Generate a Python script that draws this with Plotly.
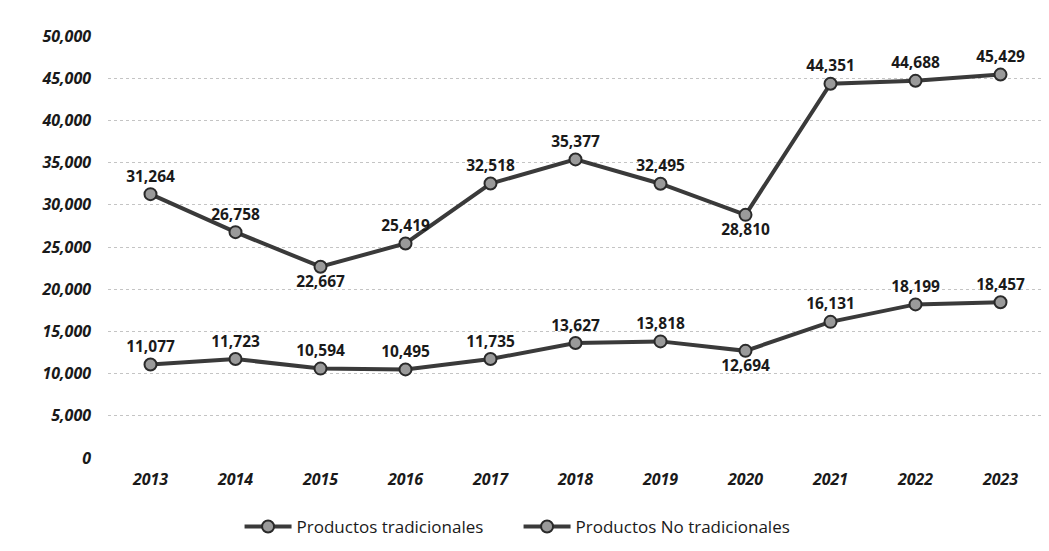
import plotly.graph_objects as go

years = ["2013", "2014", "2015", "2016", "2017", "2018", "2019", "2020", "2021", "2022", "2023"]
tradicionales = [31264, 26758, 22667, 25419, 32518, 35377, 32495, 28810, 44351, 44688, 45429]
no_tradicionales = [11077, 11723, 10594, 10495, 11735, 13627, 13818, 12694, 16131, 18199, 18457]

pos_trad = ["top center", "top center", "bottom center", "top center", "top center", "top center",
            "top center", "bottom center", "top center", "top center", "top center"]
pos_no_trad = ["top center"] * 7 + ["bottom center"] + ["top center"] * 3

font_family = "Open Sans, Liberation Sans, Arial"

fig = go.Figure()
for name, vals, pos in [
    ("Productos tradicionales", tradicionales, pos_trad),
    ("Productos No tradicionales", no_tradicionales, pos_no_trad),
]:
    fig.add_trace(go.Scatter(
        x=years, y=vals, name=name,
        mode="lines+markers+text",
        text=[f"<b>{v:,}</b>" for v in vals],
        textposition=pos,
        textfont=dict(size=15.5, color="#1a1a1a", family=font_family),
        line=dict(color="#3a3a3a", width=4),
        marker=dict(size=12, color="#9a9a9a", line=dict(color="#2a2a2a", width=2)),
        cliponaxis=False,
    ))

# figure sits inside the page's 8px body margin
fig.update_layout(
    width=1041, height=543,
    paper_bgcolor="white", plot_bgcolor="white",
    margin=dict(l=100, r=6, t=28, b=93, autoexpand=False),
    font=dict(family=font_family, color="#1a1a1a"),
    showlegend=True,
    legend=dict(orientation="h", x=0.1407, xanchor="left", y=-0.1635, yanchor="middle",
                font=dict(size=17), itemwidth=47, entrywidth=217, entrywidthmode="pixels"),
    xaxis=dict(type="category", range=[-0.5, 10.5], showgrid=False, showline=False,
               zeroline=False, automargin=False,
               tickfont=dict(size=16, family=font_family, weight="bold", style="italic"),
               ticklabelstandoff=10),
    yaxis=dict(range=[0, 50000], dtick=5000, tickformat=",", showgrid=True, automargin=False,
               gridcolor="#c4c4c4", griddash="dot", zeroline=False, showline=False,
               tickfont=dict(size=16, family=font_family, weight="bold", style="italic"),
               ticklabelstandoff=16),
)

fig.write_html("out.html")
